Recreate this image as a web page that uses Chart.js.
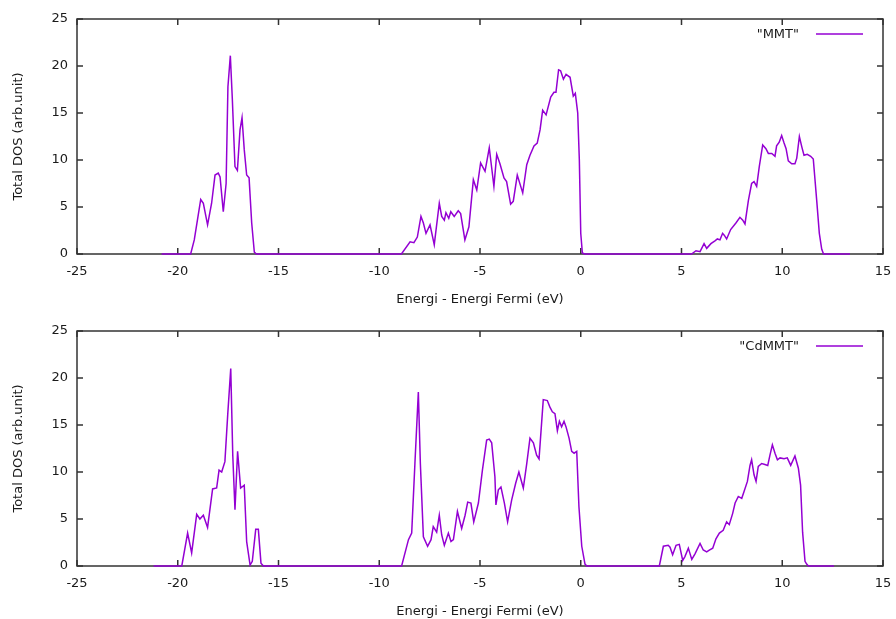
<!DOCTYPE html>
<html><head><meta charset="utf-8">
<script src="https://cdn.jsdelivr.net/npm/chart.js@4/dist/chart.umd.min.js"></script>
<style>
html,body{margin:0;padding:0;background:#fff;overflow:hidden;width:896px;height:619px;}
.wrap{position:absolute;left:0;width:896px;height:312px;}
#w1{top:0}#w2{top:312px}
canvas{display:block}
</style></head><body>
<div class="wrap" id="w1"><canvas id="c1" width="896" height="312"></canvas></div>
<div class="wrap" id="w2"><canvas id="c2" width="896" height="312"></canvas></div>
<script>
const xTicks=[-25,-20,-15,-10,-5,0,5,10,15];
const yTicks=[0,5,10,15,20,25];
const xTitle='Energi - Energi Fermi (eV)';
const yTitle='Total DOS (arb.unit)';
const seriesLabels=['"MMT"','"CdMMT"'];

const mmtEnergy=[-20.8,-19.36,-19.18,-18.86,-18.73,-18.52,-18.32,-18.15,-17.99,-17.90,-17.74,-17.60,-17.51,-17.39,-17.29,-17.16,-17.04,-16.91,-16.81,-16.70,-16.58,-16.46,-16.33,-16.20,-16.10,
-8.9,-8.47,-8.28,-8.11,-7.93,-7.81,-7.68,-7.48,-7.27,-7.02,-6.90,-6.77,-6.69,-6.55,-6.45,-6.28,-6.08,-5.96,-5.75,-5.55,-5.33,-5.16,-4.97,-4.75,-4.54,-4.31,-4.17,-4.01,-3.81,-3.68,-3.48,-3.35,-3.15,-2.88,-2.68,-2.52,-2.32,-2.16,-2.02,-1.89,-1.72,-1.49,-1.33,-1.23,-1.10,-1.00,-0.86,-0.73,-0.53,-0.37,-0.27,-0.15,-0.07,0.00,0.08,0.2,
5.5,5.72,5.92,6.12,6.25,6.46,6.66,6.78,6.91,7.04,7.12,7.24,7.44,7.70,7.90,8.04,8.15,8.32,8.48,8.60,8.73,8.86,9.03,9.19,9.31,9.48,9.64,9.72,9.85,9.97,10.09,10.19,10.30,10.47,10.63,10.72,10.85,10.97,11.08,11.24,11.41,11.54,11.71,11.84,11.96,12.05,13.36];
const mmtDos=[0,0,1.5,5.8,5.4,3.1,5.4,8.4,8.6,8.2,4.5,7.5,17.8,21.1,16.4,9.3,8.9,13.2,14.5,11.1,8.4,8.1,3.3,0.2,0,
0,1.3,1.2,1.8,4.0,3.3,2.2,3.1,1.0,5.4,4.0,3.6,4.4,3.8,4.5,4.0,4.6,4.3,1.5,2.9,7.9,6.8,9.7,8.8,11.3,7.2,10.6,9.6,8.1,7.7,5.3,5.6,8.4,6.5,9.5,10.5,11.5,11.8,13.2,15.3,14.8,16.7,17.2,17.2,19.6,19.5,18.6,19.1,18.8,16.8,17.1,15.0,10.0,2.2,0.1,0,
0,0.35,0.25,1.1,0.6,1.1,1.4,1.6,1.5,2.2,2.0,1.6,2.6,3.3,3.9,3.6,3.2,5.7,7.5,7.7,7.2,9.3,11.6,11.2,10.7,10.7,10.4,11.5,11.9,12.6,11.8,11.2,9.9,9.6,9.6,10.2,12.5,11.4,10.5,10.6,10.4,10.1,5.7,2.2,0.5,0,0];

const cdEnergy=[-21.2,-19.80,-19.51,-19.31,-19.06,-18.90,-18.73,-18.52,-18.27,-18.07,-17.95,-17.82,-17.66,-17.52,-17.37,-17.27,-17.16,-17.03,-16.88,-16.70,-16.58,-16.41,-16.30,-16.13,-16.00,-15.87,-15.75,
-8.89,-8.55,-8.39,-8.23,-8.06,-7.96,-7.81,-7.60,-7.43,-7.32,-7.15,-7.02,-6.90,-6.77,-6.57,-6.44,-6.32,-6.12,-5.91,-5.74,-5.61,-5.45,-5.31,-5.08,-4.88,-4.67,-4.54,-4.42,-4.26,-4.21,-4.09,-3.96,-3.79,-3.63,-3.43,-3.23,-3.07,-2.85,-2.68,-2.52,-2.35,-2.19,-2.07,-1.86,-1.66,-1.53,-1.41,-1.28,-1.16,-1.06,-0.95,-0.83,-0.73,-0.58,-0.45,-0.33,-0.20,-0.09,0.05,0.21,0.30,
3.90,4.10,4.34,4.43,4.56,4.73,4.89,5.06,5.17,5.34,5.51,5.67,5.92,6.08,6.25,6.38,6.55,6.71,6.88,7.07,7.24,7.37,7.54,7.66,7.82,7.99,8.10,8.27,8.40,8.48,8.60,8.70,8.81,8.98,9.14,9.28,9.39,9.51,9.64,9.76,9.89,10.09,10.25,10.42,10.63,10.80,10.91,11.01,11.13,11.21,11.30,12.57];
const cdDos=[0,0,3.5,1.4,5.5,5.0,5.4,4.1,8.2,8.3,10.2,10.0,11.1,16.1,21.0,11.8,6.0,12.2,8.3,8.6,2.6,0.1,0.5,3.9,3.9,0.3,0,
0,2.8,3.5,10.9,18.5,10.9,3.1,2.1,2.8,4.2,3.6,5.4,3.3,2.2,3.5,2.6,2.8,5.8,4.0,5.4,6.8,6.7,4.7,6.7,10.2,13.4,13.5,13.1,9.5,6.5,8.1,8.4,6.7,4.7,7.0,8.8,10.0,8.3,10.9,13.6,13.1,11.8,11.4,17.7,17.6,16.9,16.4,16.2,14.4,15.4,14.8,15.4,14.8,13.6,12.2,12.0,12.2,6.3,2.1,0.2,0,
0,2.1,2.2,2.0,1.2,2.2,2.3,0.6,1.0,1.9,0.7,1.3,2.4,1.7,1.5,1.7,1.9,2.9,3.5,3.8,4.7,4.4,5.6,6.7,7.4,7.2,7.9,9.0,10.7,11.3,9.7,9.0,10.6,10.9,10.8,10.7,11.8,12.9,12.0,11.3,11.5,11.4,11.5,10.7,11.7,10.4,8.6,3.6,0.5,0.2,0,0];

const FONT='DejaVu Sans';
const TEXT='#1a1a1a';
const LINE='#9400d3';

const framePlugin={
  id:'frame',
  beforeDatasetsDraw(chart){
    const {ctx,chartArea:a,scales:{x,y}}=chart;
    ctx.save();
    ctx.strokeStyle='#333';ctx.lineWidth=1.5;
    ctx.strokeRect(a.left,a.top,a.right-a.left,a.bottom-a.top);
    const L=6;
    ctx.beginPath();
    xTicks.forEach(v=>{const px=x.getPixelForValue(v);
      ctx.moveTo(px,a.bottom);ctx.lineTo(px,a.bottom-L);
      ctx.moveTo(px,a.top);ctx.lineTo(px,a.top+L);});
    yTicks.forEach(v=>{const py=y.getPixelForValue(v);
      ctx.moveTo(a.left,py);ctx.lineTo(a.left+L,py);
      ctx.moveTo(a.right,py);ctx.lineTo(a.right-L,py);});
    ctx.stroke();
    ctx.restore();
  },
  afterDatasetsDraw(chart){
    const {ctx,chartArea:a}=chart;
    const ds=chart.data.datasets[0];
    ctx.save();
    ctx.font='13px "'+FONT+'"';
    ctx.fillStyle=TEXT;ctx.textAlign='right';ctx.textBaseline='middle';
    ctx.fillText(ds.label,a.right-84,a.top+16);
    ctx.strokeStyle=LINE;ctx.lineWidth=1.5;
    ctx.beginPath();ctx.moveTo(a.right-67,a.top+15);ctx.lineTo(a.right-20,a.top+15);ctx.stroke();
    ctx.restore();
  }
};

function makeChart(id,label,xs,ys){
  const pts=xs.map((e,i)=>({x:e,y:ys[i]}));
  return new Chart(document.getElementById(id),{
    type:'line',
    data:{datasets:[{label:label,data:pts,borderColor:LINE,borderWidth:1.5,pointRadius:0,tension:0,fill:false,clip:false}]},
    options:{
      responsive:false,animation:false,devicePixelRatio:1,
      layout:{padding:{top:19,right:13,left:0,bottom:0}},
      plugins:{legend:{display:false},tooltip:{enabled:false}},
      scales:{
        x:{type:'linear',min:-25,max:15,
          afterBuildTicks(s){s.ticks=xTicks.map(v=>({value:v}));},
          afterFit(s){s.height=58;s.paddingRight=0;s.paddingLeft=0;},
          grid:{display:false,drawTicks:false},border:{display:false},
          ticks:{padding:10,color:TEXT,font:{family:FONT,size:13},maxRotation:0,autoSkip:false},
          title:{display:true,text:xTitle,color:TEXT,font:{family:FONT,size:13},padding:{top:0,bottom:5}}},
        y:{type:'linear',min:0,max:25,
          afterBuildTicks(s){s.ticks=yTicks.map(v=>({value:v}));},
          afterFit(s){s.width=77;s.paddingTop=0;s.paddingBottom=0;},
          grid:{display:false,drawTicks:false},border:{display:false},
          ticks:{padding:9,color:TEXT,font:{family:FONT,size:13}},
          title:{display:true,text:yTitle,color:TEXT,font:{family:FONT,size:13},padding:{top:11,bottom:0}}}
      }
    },
    plugins:[framePlugin]
  });
}
makeChart('c1',seriesLabels[0],mmtEnergy,mmtDos);
makeChart('c2',seriesLabels[1],cdEnergy,cdDos);
</script></body></html>
